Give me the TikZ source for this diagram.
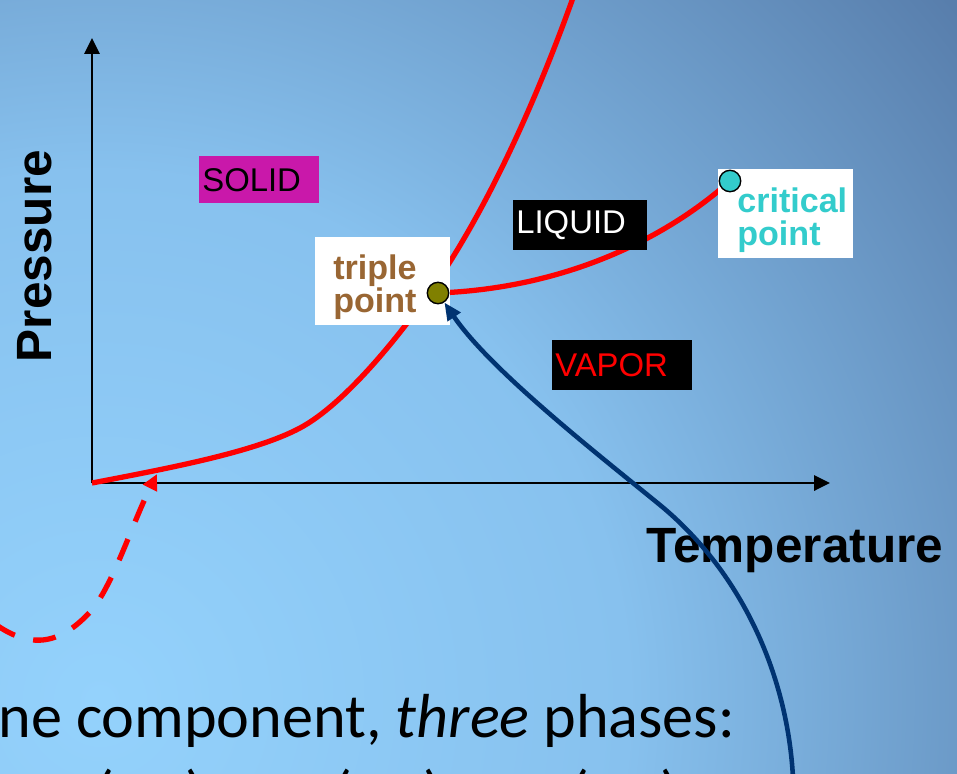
\documentclass[tikz,border=0pt]{standalone}
\usepackage{fontspec}
\setmainfont{Liberation Sans}
\newfontfamily\slidefont{Carlito}
\usepackage{xcolor}
\usepackage{tikz}
\usetikzlibrary{arrows.meta}
\definecolor{glowLight}{RGB}{148,210,252}
\definecolor{glowMid}{RGB}{135,193,238}
\definecolor{glowDark}{RGB}{88,126,172}
\definecolor{curveRed}{HTML}{FF0000}
\definecolor{feedNavy}{HTML}{003371}
\definecolor{solidMagenta}{HTML}{C918AA}
\definecolor{tripleBrown}{HTML}{996633}
\definecolor{critCyan}{HTML}{33CCCC}
\definecolor{tripleOlive}{HTML}{808000}
\pgfdeclareradialshading{slide_glow}{\pgfpoint{0bp}{0bp}}{%
    color(0bp)=(glowLight); color(12bp)=(glowMid); color(25bp)=(glowDark); color(50bp)=(glowDark)}
\tikzset{
    axis_arrow/.style={
        -{Triangle[length=9pt, width=8.5pt]}, line width=1.7pt, draw=black
    },
    phase_line/.style={
        line width=3pt, draw=curveRed
    },
    dash_arrow/.style={
        -{Triangle[length=9pt, width=8.5pt]}, line width=3pt, draw=curveRed,
        dash pattern=on 13pt off 10.8pt
    },
    feed_arrow/.style={
        -{Triangle[length=10pt, width=8.5pt]}, line width=2.6pt, draw=feedNavy
    },
    axis_lbl/.style={
        font=\fontsize{28.2pt}{30pt}\selectfont\bfseries, text=black, inner sep=0pt
    },
    phase_box/.style={
        anchor=north west, inner xsep=1.7pt, inner ysep=0pt, minimum height=28.5pt,
        align=left, font=\fontsize{18.7pt}{21pt}\selectfont
    },
    point_box/.style={
        anchor=north west, fill=white, inner ysep=0pt,
        align=left, font=\fontsize{19.4pt}{19pt}\selectfont\bfseries
    },
    point_dot/.style={
        circle, draw=black, line width=0.8pt, minimum size=12.2pt, inner sep=0pt
    },
    slide_txt/.style={
        anchor=base west, inner sep=0pt, text=black,
        font=\slidefont\fontsize{35.4pt}{42pt}\selectfont
    }
}
\newcommand{\lowerstrut}{\rule{0pt}{21pt}}

\begin{document}
\begin{tikzpicture}[x=0.02cm, y=-0.02cm]
    \useasboundingbox (0, 0) rectangle (957, 774);
    \clip (0, 0) rectangle (957, 774);
    \shade[shading=slide_glow] (-1000, -400) rectangle (1200, 1800);

    \coordinate (origin) at (92, 483);
    \coordinate (p_top) at (92, 38);
    \coordinate (t_end) at (830, 483);
    \coordinate (tp) at (438, 293);
    \coordinate (cp) at (730, 181);
    \coordinate (melt_top) at (574, -5);
    \coordinate (dash_start) at (-5, 624);
    \coordinate (dash_tip) at (157, 474);
    \coordinate (feed_start) at (793, 778);

    \draw[axis_arrow] (origin) -- (p_top);
    \draw[axis_arrow] (origin) -- (t_end);

    \draw[phase_line] (origin) .. controls (170, 468) and (255, 452) .. (300, 428)
        .. controls (345, 404) and (400, 335) .. (430, 292)
        .. controls (490, 206) and (539, 93) .. (melt_top);
    \draw[phase_line] (tp) .. controls (570, 288) and (670, 235) .. (cp);
    \draw[dash_arrow] (dash_start) .. controls (25, 645) and (55, 650) .. (90, 612)
        .. controls (112, 588) and (132, 524) .. (dash_tip);

    \node[axis_lbl, rotate=90] (p_lbl) at (35, 256) {Pressure};
    \node[axis_lbl, anchor=base] (t_lbl) at (795, 562) {Temperature};

    \node[phase_box, fill=solidMagenta, text=black, text width=64.9pt, minimum height=26.7pt] (solid_lbl) at (199, 156) {SOLID};
    \node[phase_box, fill=black, text=white, text width=72.8pt] (liquid_lbl) at (513, 200) {LIQUID};
    \node[phase_box, fill=black, text=curveRed, text width=76.3pt] (vapor_lbl) at (552, 340) {VAPOR};

    \node[point_box, text=tripleBrown, inner xsep=10.2pt, text width=56.4pt, minimum height=50.1pt] (triple_lbl) at (315, 237) {\lowerstrut triple\\point};
    \node[point_box, text=critCyan, inner xsep=10.8pt, text width=55.2pt, minimum height=50.6pt] (critical_lbl) at (718, 169) {\lowerstrut critical\\point};

    \node[point_dot, fill=tripleOlive] (triple_dot) at (tp) {};
    \node[point_dot, fill=critCyan] (crit_dot) at (cp) {};

    \draw[feed_arrow] (feed_start) .. controls (788, 680) and (745, 575) .. (660, 505)
        .. controls (600, 456) and (490, 370) .. (triple_dot);

    \node[slide_txt] (comp_txt) at (-2, 737) {ne component, \textit{three} phases:};
    \node[slide_txt] (state_a) at (95, 814) {(T,P)};
    \node[slide_txt] (state_b) at (333, 814) {(T,P)};
    \node[slide_txt] (state_c) at (570, 814) {(T,P)};
\end{tikzpicture}
\end{document}
